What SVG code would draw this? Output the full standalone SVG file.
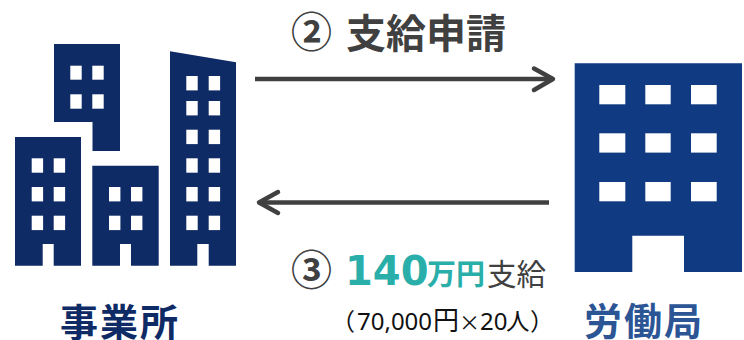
<svg xmlns="http://www.w3.org/2000/svg" width="744" height="340" viewBox="0 0 744 340">
<style>
.w{fill:#fff}
.b1{fill:#0f2b66}
.b2{fill:#103a82}
.c{fill:none;stroke:#404040;stroke-width:4.500;stroke-linecap:round;stroke-linejoin:round}
.s{fill:none;stroke:#404040;stroke-width:4.500}
text{font-family:"Noto Sans CJK JP","Noto Sans",sans-serif}
.h{font-weight:700;fill:#404040}
.l{font-family:"Noto Sans","Noto Sans CJK JP",sans-serif;font-size:24px}
</style>
<rect width="744" height="340" fill="#fff"/>
<g id="office">
<path class="b1" d="M54 44H120V151H92.500V122H54Z"/>
<path class="b1" d="M15 137H81V265.700H53.700V244H42.700V265.700H15Z"/>
<path class="b1" d="M92.300 165.700H158.700V265.700H131V244H120V265.700H92.300Z"/>
<path class="b1" d="M170 51.300L236 62.300V265.700H208.700V244H197.300V265.700H170Z"/>
<g class="w">
<rect x="70.300" y="65.700" width="11.400" height="14"/><rect x="92.300" y="65.700" width="11.400" height="14"/>
<rect x="70.300" y="94.300" width="11.400" height="14.400"/><rect x="92.300" y="94.300" width="11.400" height="14.400"/>
<rect x="31.700" y="158.300" width="11.400" height="14.400"/><rect x="53.700" y="158.300" width="11.400" height="14.400"/>
<rect x="31.700" y="187" width="11.400" height="14.400"/><rect x="53.700" y="187" width="11.400" height="14.400"/>
<rect x="31.700" y="215.700" width="11.400" height="14.400"/><rect x="53.700" y="215.700" width="11.400" height="14.400"/>
<rect x="109" y="187" width="11.400" height="14.400"/><rect x="131" y="187" width="11.400" height="14.400"/>
<rect x="109" y="215.700" width="11.400" height="14.400"/><rect x="131" y="215.700" width="11.400" height="14.400"/>
<rect x="186.300" y="76" width="11.400" height="14.400"/><rect x="208.700" y="76" width="11.400" height="14.400"/>
<rect x="186.300" y="101" width="11.400" height="14.400"/><rect x="208.700" y="101" width="11.400" height="14.400"/>
<rect x="186.300" y="129.700" width="11.400" height="14.400"/><rect x="208.700" y="129.700" width="11.400" height="14.400"/>
<rect x="186.300" y="158.300" width="11.400" height="14.400"/><rect x="208.700" y="158.300" width="11.400" height="14.400"/>
<rect x="186.300" y="187" width="11.400" height="14.400"/><rect x="208.700" y="187" width="11.400" height="14.400"/>
<rect x="186.300" y="215.700" width="11.400" height="14.400"/><rect x="208.700" y="215.700" width="11.400" height="14.400"/>
</g>
<text x="60" y="335.500" font-size="38" letter-spacing="2" font-weight="700" fill="#0f2b66">事業所</text>
</g>
<g id="bureau">
<path class="b2" d="M574.700 63.300H742V272H684V235.700H632.300V272H574.700Z"/>
<g class="w">
<rect x="599.300" y="85" width="26" height="19.300"/><rect x="645.300" y="85" width="25.400" height="19.300"/><rect x="691" y="85" width="25.700" height="19.300"/>
<rect x="599.300" y="133.300" width="26" height="19.300"/><rect x="645.300" y="133.300" width="25.400" height="19.300"/><rect x="691" y="133.300" width="25.700" height="19.300"/>
<rect x="599.300" y="182" width="26" height="19.300"/><rect x="645.300" y="182" width="25.400" height="19.300"/><rect x="691" y="182" width="25.700" height="19.300"/>
</g>
<text x="584" y="334.500" font-size="38" letter-spacing="2" font-weight="700" fill="#2c5596">労働局</text>
</g>
<g id="connectors">
<path class="s" d="M255 79H553"/>
<path class="c" d="M534 68.500L553 79L534 90"/>
<path class="s" d="M549 202.500H259"/>
<path class="c" d="M278 192L259 202.500L278 213"/>
</g>
<g id="labels">
<text class="h" x="291" y="47" font-size="41">②</text>
<text class="h" x="346" y="48" font-size="40">支給申請</text>
<text class="h" x="291" y="285" font-size="41">③</text>
<text x="345" y="285" font-size="40" font-weight="700" fill="#2aaeaa" style="font-family:'DejaVu Sans',sans-serif">140</text>
<text x="427" y="285" font-size="29" font-weight="700" fill="#2aaeaa">万円</text>
<text x="487" y="285" font-size="29.500" fill="#404040">支給</text>
<text x="331" y="330" fill="#111" font-size="24">（<tspan class="l" x="357">70,000</tspan><tspan x="433" font-size="26">円</tspan><tspan x="459" font-size="21">×</tspan><tspan class="l" x="480">20</tspan><tspan x="506" font-size="23.500">人</tspan><tspan x="530">）</tspan></text>
</g>
</svg>
